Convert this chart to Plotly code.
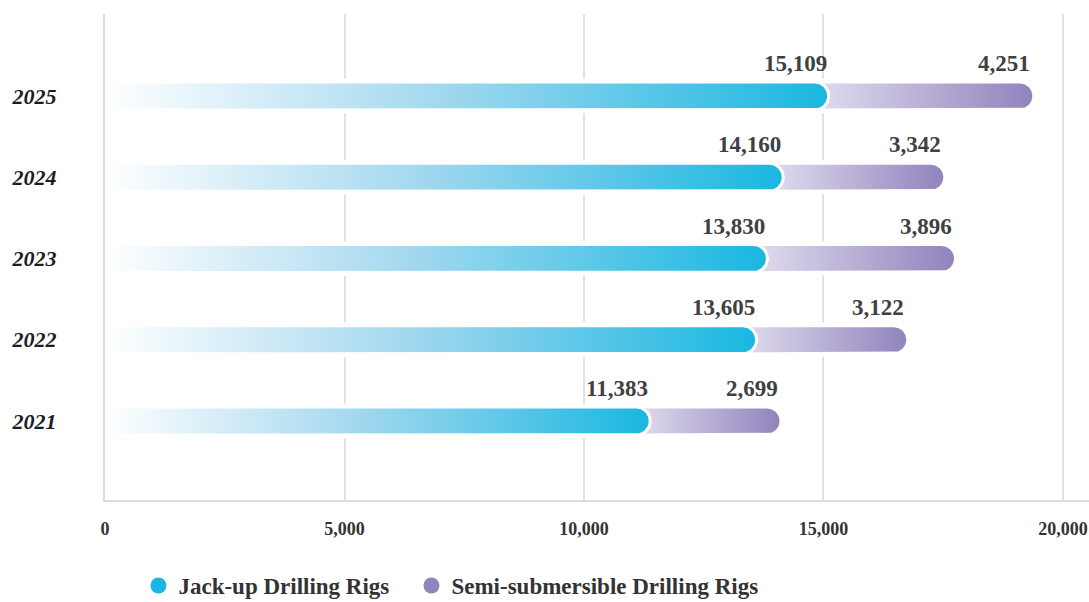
import numpy as np
import plotly.graph_objects as go

# ---- data ----
years = ["2021", "2022", "2023", "2024", "2025"]
jackup = [11383, 13605, 13830, 14160, 15109]
semisub = [2699, 3122, 3896, 3342, 4251]
series_names = ["Jack-up Drilling Rigs", "Semi-submersible Drilling Rigs"]
x_tickvals = [0, 5000, 10000, 15000, 20000]
x_ticktext = ["0", "5,000", "10,000", "15,000", "20,000"]

# ---- layout geometry ----
W, H = 1089, 602
M_L, M_R, M_T, M_B = 105, 0, 14, 102
X_RANGE = [0, 20543]
Y_RANGE = [-0.972, 5.009]
pw = W - M_L - M_R
ph = H - M_T - M_B
ux = (X_RANGE[1] - X_RANGE[0]) / pw   # data units per pixel (x)
uy = (Y_RANGE[1] - Y_RANGE[0]) / ph   # data units per pixel (y)

CYAN = "#19b7e1"
PURPLE = "#9183bd"
SERIF = "Liberation Serif"


def capsule(x0, x1, yc, r_px, ext_px=0.0):
    """Bar outline from x0 to x1 with a rounded right end (radius in px)."""
    rx, ry = r_px * ux, r_px * uy
    xe = x1 + ext_px * ux
    cx = xe - rx
    t = np.linspace(-np.pi / 2, np.pi / 2, 48)
    xs = [x0, cx] + list(cx + rx * np.cos(t)) + [cx, x0, x0]
    ys = [yc - ry, yc - ry] + list(yc + ry * np.sin(t)) + [yc + ry, yc + ry, yc - ry]
    return xs, ys


fig = go.Figure()
R = 12.5  # bar half-thickness in px

# white halos (break the gridlines around bars)
for i, (j, s) in enumerate(zip(jackup, semisub)):
    xs, ys = capsule(0, j + s, i, R + 5, ext_px=5)
    fig.add_trace(go.Scatter(x=xs, y=ys, mode="lines", fill="toself",
                             fillcolor="white", line=dict(width=0, color="white"),
                             hoverinfo="skip", showlegend=False))

# semi-submersible segments
for i, (j, s) in enumerate(zip(jackup, semisub)):
    xs, ys = capsule(j - R * ux, j + s, i, R)
    fig.add_trace(go.Scatter(x=xs, y=ys, mode="lines", fill="toself",
                             fillgradient=dict(type="horizontal",
                                               colorscale=[[0, "#e0dcee"], [1, PURPLE]]),
                             line=dict(width=0, color=PURPLE),
                             hoverinfo="skip", showlegend=False))

# jack-up segments
for i, j in enumerate(jackup):
    xs, ys = capsule(0, j, i, R + 1.5)
    fig.add_trace(go.Scatter(x=xs, y=ys, mode="lines", fill="toself",
                             fillgradient=dict(type="horizontal",
                                               colorscale=[[0, "#ffffff"], [0.45, "#a6d9ef"],
                                                           [1, CYAN]]),
                             line=dict(width=3, color="white"),
                             hoverinfo="skip", showlegend=False))

# legend entries
for name, col, lw in zip(series_names, [CYAN, PURPLE], [228, 360]):
    fig.add_trace(go.Scatter(x=[None], y=[None], mode="markers", name=name,
                             legendwidth=lw,
                             marker=dict(symbol="circle", size=20, color=col)))

# value labels
label_font = dict(family=SERIF, size=23, color="#404040", weight="bold")
for i, (j, s) in enumerate(zip(jackup, semisub)):
    fig.add_annotation(x=j, y=i, text=f"{j:,}", showarrow=False, xanchor="right",
                       yanchor="bottom", yshift=18, font=label_font)
    fig.add_annotation(x=j + s, y=i, text=f"{s:,}", showarrow=False, xanchor="right",
                       yanchor="bottom", yshift=18, font=label_font)

fig.update_layout(
    width=W, height=H,
    margin=dict(l=M_L, r=M_R, t=M_T, b=M_B, autoexpand=False),
    paper_bgcolor="white", plot_bgcolor="white",
    showlegend=True,
    legend=dict(orientation="h", x=0.034, xanchor="left", y=-0.176, yanchor="middle",
                font=dict(family=SERIF, size=23, color="#333333", weight="bold"),
                itemsizing="trace", bgcolor="rgba(0,0,0,0)"),
    xaxis=dict(range=X_RANGE, tickvals=x_tickvals, ticktext=x_ticktext,
               showgrid=True, gridcolor="#e1e1e1", gridwidth=2, zeroline=False,
               showline=True, linecolor="#dddddd", linewidth=2, ticks="",
               ticklabelstandoff=11, ticklabeloverflow="allow",
               tickfont=dict(family=SERIF, size=18, color="#333333", weight="bold"),
               fixedrange=True),
    yaxis=dict(range=Y_RANGE, tickvals=list(range(len(years))), ticktext=years,
               showgrid=False, zeroline=False, showline=True, linecolor="#dddddd",
               linewidth=2, ticks="", ticklabelstandoff=42,
               tickfont=dict(family=SERIF, size=22, color="#1e1e1e", weight="bold",
                             style="italic"),
               fixedrange=True),
)

fig.write_html("out.html")
